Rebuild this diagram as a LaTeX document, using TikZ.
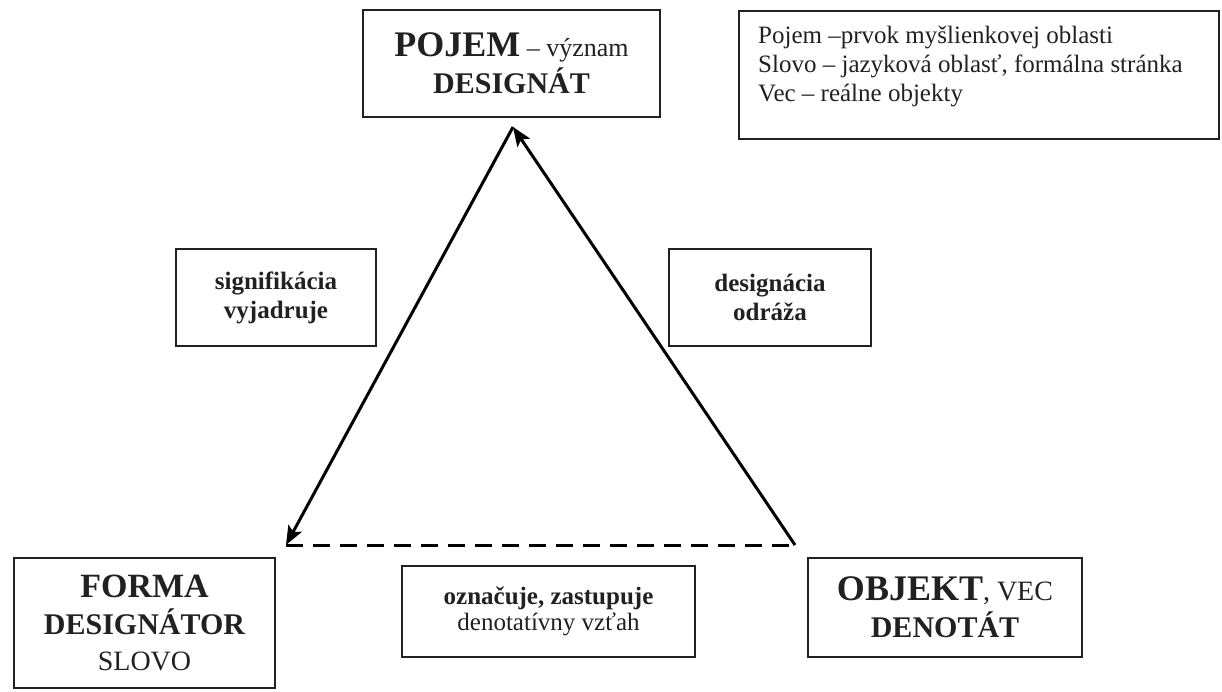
\documentclass[tikz,border=0pt]{standalone}
\usepackage{fontspec}
\setmainfont{Liberation Serif}
\usetikzlibrary{arrows.meta}
\definecolor{ink}{gray}{0.13}
\newcommand\fs[2]{\fontsize{#1}{#2}\selectfont}
\begin{document}
\begin{tikzpicture}[x=1pt,y=-1pt,
  box/.style={draw=ink, line width=1.8pt, inner sep=0pt, align=center, text=ink},
  edge/.style={line width=3pt, draw=black},
  tip/.style={-{Stealth[length=19pt,width=15pt,inset=4pt]}}
]
\path[use as bounding box] (0,0) rectangle (1222,691);

% boxes
\node[box, minimum width=297, minimum height=107, font=\fs{30}{37}] (pojem) at (511.5,63.5)
  {\fs{36}{37}\bfseries POJEM\fs{26}{37}\mdseries{} – význam\\\fs{30}{37}\bfseries DESIGNÁT};
\node[box, minimum width=480, minimum height=128, anchor=north west] (legend) at (738,10) {};
\node[anchor=north west, align=left, inner sep=0pt, text=ink, font=\fs{25}{29}] (legendtext) at (758,26)
  {Pojem –prvok myšlienkovej oblasti\\Slovo – jazyková oblasť, formálna stránka\\Vec – reálne objekty};
\node[box, minimum width=200, minimum height=97, font=\fs{25}{29}\bfseries] (sig) at (276,297.5)
  {signifikácia\\vyjadruje};
\node[box, minimum width=202, minimum height=97, font=\fs{25}{29}\bfseries] (des) at (770,297.5)
  {designácia\\odráža};
\node[box, minimum width=293, minimum height=91, font=\fs{25}{26}] (oznac) at (548.5,611.5)
  {\bfseries označuje, zastupuje\\denotatívny vzťah};
\node[box, minimum width=261, minimum height=130, font=\fs{30}{36.5}] (forma) at (144.5,623)
  {\fs{34}{36.5}\bfseries FORMA\\\fs{30}{36.5}\bfseries DESIGNÁTOR\\\fs{28}{36.5}SLOVO};
\node[box, minimum width=274, minimum height=99, font=\fs{30}{37}] (objekt) at (945,607.5)
  {\fs{36}{37}\bfseries OBJEKT\fs{28}{37}\mdseries , VEC\\\fs{30}{37}\bfseries DENOTÁT};

% triangle
\coordinate (A) at (513,127);
\coordinate (L) at (286,545);
\coordinate (R) at (795,545);
\draw[edge, dash pattern=on 17pt off 10pt] (L) -- (R);
\draw[edge, tip] (A) -- (L);
\draw[edge, tip] (R) -- (A);
\end{tikzpicture}
\end{document}
